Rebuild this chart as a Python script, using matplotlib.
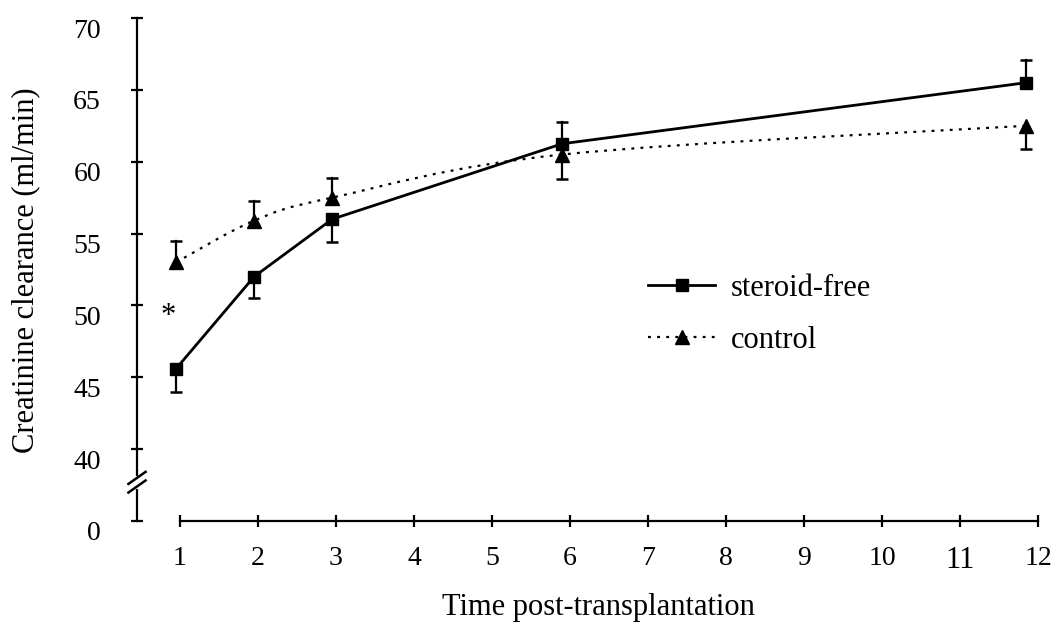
import matplotlib.pyplot as plt
from matplotlib.lines import Line2D
from matplotlib.path import Path
from matplotlib.patches import PathPatch
import matplotlib.transforms as mtransforms

# months post-transplantation (points sit slightly left of the ticks)
months = [0.95, 1.95, 2.95, 5.9, 11.85]

steroid_free = [45.6, 52.0, 56.0, 61.25, 65.5]
steroid_free_err_low = [1.6, 1.5, 1.6, 0.0, 0.0]
steroid_free_err_high = [0.0, 0.0, 0.0, 1.5, 1.6]

control = [53.0, 55.9, 57.5, 60.5, 62.5]
control_err_low = [0.0, 0.0, 0.0, 1.7, 1.6]
control_err_high = [1.5, 1.4, 1.4, 0.0, 0.0]

x_ticks = list(range(1, 13))
# the broken axis: the "0" tick sits one step below 40
y_ticks = [35, 40, 45, 50, 55, 60, 65, 70]
y_tick_labels = ["0", "40", "45", "50", "55", "60", "65", "70"]

FONT = "Liberation Serif"
FS = 20
FS_LABEL = 22
W, H = 1056, 625


def smooth_path(x, y):
    """Catmull-Rom style bezier through the points (like Excel smoothing)"""
    pts = list(zip(x, y))
    verts = [pts[0]]
    codes = [Path.MOVETO]
    n = len(pts)
    for i in range(n - 1):
        p0 = pts[i - 1] if i > 0 else pts[i]
        p1 = pts[i]
        p2 = pts[i + 1]
        p3 = pts[i + 2] if i + 2 < n else pts[i + 1]
        c1 = (p1[0] + (p2[0] - p0[0]) / 6, p1[1] + (p2[1] - p0[1]) / 6)
        c2 = (p2[0] - (p3[0] - p1[0]) / 6, p2[1] - (p3[1] - p1[1]) / 6)
        verts += [c1, c2, p2]
        codes += [Path.CURVE4] * 3
    return Path(verts, codes)


def draw_errors(ax, x, y, low, high):
    """One-sided error bars with a single cap"""
    for xi, yi, lo, hi in zip(x, y, low, high):
        for end in (yi - lo, yi + hi):
            if end == yi:
                continue
            ax.plot([xi, xi], [yi, end], color="black", lw=1.6, zorder=2,
                    clip_on=False)
            ax.plot([xi], [end], marker="_", ms=9, mew=1.8, color="black",
                    zorder=2, clip_on=False)


fig = plt.figure(figsize=(W / 100, H / 100), dpi=100)
left, right, top, bottom = 137, 1050, 18, 521
ax = fig.add_axes([left / W, 1 - bottom / H, (right - left) / W,
                   (bottom - top) / H])

x_left = 1 - (180 - left) / 78.0
x_right = 1 + (right - 180) / 78.0
ax.set_xlim(x_left, x_right)
ax.set_ylim(35, 70)

# steroid-free: solid line with squares
draw_errors(ax, months, steroid_free, steroid_free_err_low,
            steroid_free_err_high)
ax.plot(months, steroid_free, color="black", lw=2.0, marker="s", ms=8.5,
        zorder=4, clip_on=False)

# control: smoothed dotted line with triangles
draw_errors(ax, months, control, control_err_low, control_err_high)
ax.add_patch(PathPatch(smooth_path(months, control), fill=False,
                       edgecolor="black", lw=1.6,
                       linestyle=(0, (1.3, 2.8)), zorder=3))
ax.plot(months, control, linestyle="none", color="black", marker="^",
        ms=10, zorder=4, clip_on=False)

ax.text(0.85, 49.2, "*", fontsize=FS_LABEL, family=FONT, ha="center",
        va="center")

# axes styling
for side in ("top", "right"):
    ax.spines[side].set_visible(False)
ax.spines["left"].set_bounds(35, 70)
ax.spines["bottom"].set_bounds(1, 12)
ax.spines["left"].set_linewidth(1.6)
ax.spines["bottom"].set_linewidth(1.6)

ax.set_xticks(x_ticks)
ax.set_xticklabels([str(t) for t in x_ticks], fontsize=FS, family=FONT)
ax.set_yticks(y_ticks)
ax.set_yticklabels(y_tick_labels, fontsize=FS, family=FONT)
ax.tick_params(axis="both", direction="inout", length=8, width=1.6)
ax.tick_params(axis="x", pad=14)
ax.tick_params(axis="y", pad=22)
ax.get_xticklabels()[10].set_fontsize(FS + 2)

shift = mtransforms.ScaledTranslation(0, -10 / 100, fig.dpi_scale_trans)
for lab in ax.get_yticklabels():
    lab.set_transform(lab.get_transform() + shift)

# axis break marks
gap_lo, gap_hi = 37.4, 38.0
ax.plot([x_left, x_left], [gap_lo, gap_hi], color="white", lw=3,
        zorder=5, clip_on=False)
for yb in (gap_lo, gap_hi):
    ax.plot([x_left - 0.11, x_left + 0.11], [yb - 0.42, yb + 0.42],
            color="black", lw=1.8, zorder=6, clip_on=False)

fig.text(26 / W, 1 - 270 / H, "Creatinine clearance (ml/min)",
         rotation=90, fontsize=FS_LABEL, family=FONT, ha="center",
         va="center")
fig.text(598 / W, 1 - 607 / H, "Time post-transplantation",
         fontsize=FS_LABEL, family=FONT, ha="center", va="center")

handles = [
    Line2D([], [], color="black", lw=2.0, marker="s", ms=8.5),
    Line2D([], [], color="black", lw=1.6, linestyle=(0, (1.3, 2.8)),
           marker="^", ms=10),
]
ax.legend(handles, ["steroid-free", "control"], frameon=False,
          prop={"family": FONT, "size": FS_LABEL}, handlelength=2.2,
          handletextpad=0.5, labelspacing=0.75, borderpad=0,
          borderaxespad=0, loc="upper left",
          bbox_to_anchor=((648 - left) / (right - left),
                          (bottom - 274) / (bottom - top)))

fig.savefig("out.png", dpi=100)
